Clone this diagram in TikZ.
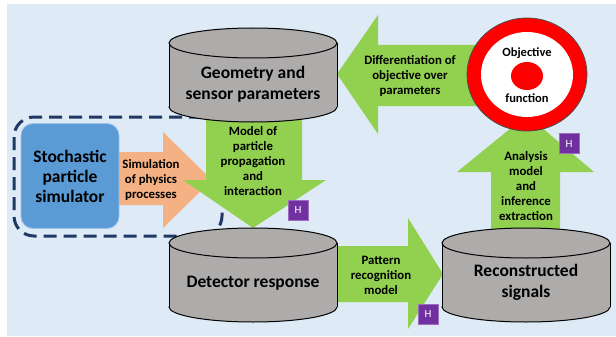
\documentclass[tikz,border=0pt]{standalone}
\usepackage{fontspec}
\setmainfont{Carlito}
\definecolor{bgblue}{HTML}{DEEAF6}
\definecolor{cylgray}{HTML}{AEABAB}
\definecolor{arrgreen}{HTML}{92D050}
\definecolor{arrorange}{HTML}{F4B183}
\definecolor{boxblue}{HTML}{5B9BD5}
\definecolor{dashnavy}{HTML}{203864}
\definecolor{hpurple}{HTML}{7030A0}
\begin{document}
\begin{tikzpicture}[x=1pt,y=-1pt,
  cyltext/.style={align=center,font=\bfseries\fontsize{17.5}{21}\selectfont,inner sep=0pt},
  lbl/.style={align=center,font=\bfseries\fontsize{12.8}{15}\selectfont,inner sep=0pt},
  objtext/.style={align=center,font=\bfseries\fontsize{12.5}{12.5}\selectfont,inner sep=0pt},
  hbox/.style={fill=hpurple,draw=hpurple!70!white,line width=0.6pt,text=white,minimum width=20pt,minimum height=20pt,inner sep=0pt,font=\fontsize{11}{11}\selectfont},
  greenarrow/.style={fill=arrgreen},
  cylline/.style={draw=black,line width=1pt}]
\useasboundingbox (0,0) rectangle (616,337);
\fill[white] (0,0) rectangle (616,337);
\fill[bgblue] (7,4) rectangle (616,336);
% dashed frame
\draw[dashnavy,line width=3pt,dash pattern=on 13pt off 7pt,rounded corners=20pt] (14,117) rectangle (222,236);
% orange arrow
\fill[arrorange] (118,152) -- (163,152) -- (163,132) -- (212,180) -- (163,228) -- (163,205) -- (118,205) -- cycle;
% stochastic box
\node[fill=boxblue,draw=boxblue!60!white,line width=0.8pt,rounded corners=12pt,minimum width=98pt,minimum height=105pt,
  align=center,font=\bfseries\fontsize{17.5}{20}\selectfont] (stoch) at (70,176) {Stochastic\\particle\\simulator};
% green arrows
\fill[greenarrow] (206,110) -- (302,110) -- (302,180) -- (326,180) -- (253,228) -- (183,180) -- (206,180) -- cycle;
\fill[greenarrow] (337,74) -- (378,15) -- (378,45) -- (490,45) -- (490,106) -- (378,106) -- (378,134) -- cycle;
\fill[greenarrow] (491,240) -- (491,172) -- (457,172) -- (527,115) -- (594,172) -- (560,172) -- (560,240) -- cycle;
\fill[greenarrow] (330,246) -- (408,246) -- (408,218) -- (443,274) -- (408,329) -- (408,302) -- (330,302) -- cycle;
% cylinders
\foreach \xa/\xb/\yt/\yb in {169/337/28/122, 169/337/228/322, 442/610/228/322}{
  \pgfmathsetmacro{\xc}{(\xa+\xb)/2}
  \pgfmathsetmacro{\rx}{(\xb-\xa)/2}
  \pgfmathsetmacro{\yc}{\yt+15}
  \pgfmathsetmacro{\yd}{\yb-15}
  \filldraw[fill=cylgray,cylline] (\xc,\yd) ellipse [x radius=\rx pt,y radius=15pt];
  \fill[cylgray] (\xa,\yc) rectangle (\xb,\yd);
  \draw[cylline] (\xa,\yc) -- (\xa,\yd) (\xb,\yc) -- (\xb,\yd);
  \filldraw[fill=cylgray,cylline] (\xc,\yc) ellipse [x radius=\rx pt,y radius=15pt];
}
% objective target
\filldraw[fill=red,draw=black!70,line width=0.8pt] (527,74.5) ellipse [x radius=60pt,y radius=56.5pt];
\fill[white] (527,74.5) ellipse [x radius=46pt,y radius=42.5pt];
\fill[red] (527,76) ellipse [x radius=16pt,y radius=14pt];
% texts
\node[cyltext] (geom) at (253,84) {Geometry and\\sensor parameters};
\node[cyltext] (det) at (253,283) {Detector response};
\node[cyltext] (rec) at (526,282) {Reconstructed\\signals};
\node[objtext] (obj1) at (527,53) {Objective};
\node[objtext] (obj2) at (527,98) {function};
\node[lbl] (diff) at (410,76) {Differentiation of\\objective over\\parameters};
\node[lbl] (model) at (253,161) {Model of\\particle\\propagation\\and\\interaction};
\node[lbl] (sim) at (151,180) {Simulation\\of physics\\processes};
\node[lbl] (patt) at (381,275) {Pattern\\recognition\\model};
\node[lbl] (ana) at (526,186) {Analysis\\model\\and\\inference\\extraction};
% H boxes
\node[hbox] (h1) at (298,210) {H};
\node[hbox] (h2) at (428,314) {H};
\node[hbox] (h3) at (569,143.5) {H};
\end{tikzpicture}
\end{document}
